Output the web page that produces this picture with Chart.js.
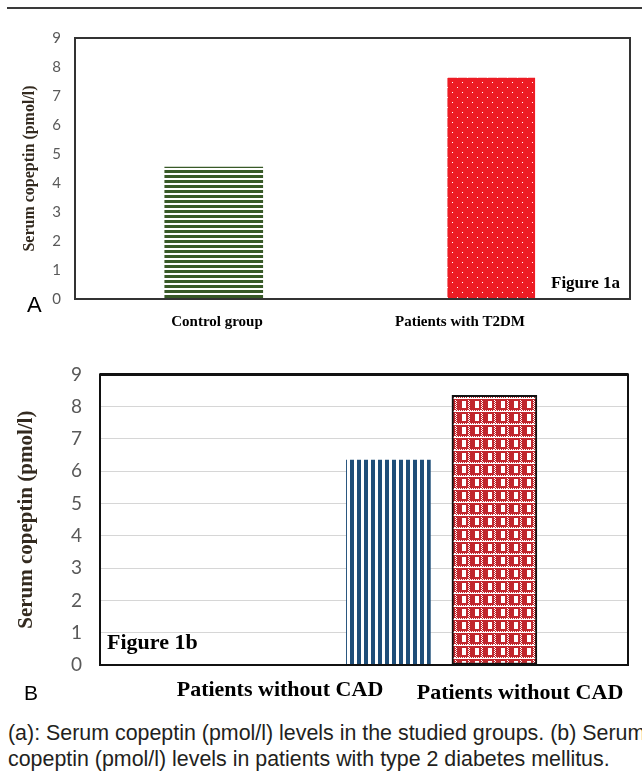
<!DOCTYPE html>
<html>
<head>
<meta charset="utf-8">
<script src="https://cdn.jsdelivr.net/npm/chart.js@4.4.1/dist/chart.umd.min.js"></script>
<style>
  html, body { margin: 0; padding: 0; background: #fff; }
  #page { position: relative; width: 642px; height: 781px; overflow: hidden; background: #fff; }
  .rule { position: absolute; left: 7px; top: 7px; width: 635px; height: 2px; background: #3a3a3a; }
  #chartA { position: absolute; left: 0; top: 0; }
  #chartB { position: absolute; left: 0; top: 345px; }
  .note { position: absolute; line-height: 1; white-space: nowrap; color: #000; }
  .fig { font-family: "Liberation Serif", "Times New Roman", serif; font-weight: bold; }
  .panel { font-family: "Liberation Sans", Arial, sans-serif; }
  .caption {
    position: absolute; left: 8px; top: 720px; width: 760px;
    font-family: "Liberation Sans", Arial, sans-serif;
    font-size: 21.4px; line-height: 26px; color: #231f20; white-space: nowrap;
  }
</style>
</head>
<body>
<div id="page">
  <div class="rule"></div>
  <canvas id="chartA" width="642" height="345"></canvas>
  <canvas id="chartB" width="642" height="365"></canvas>

  <div class="note fig" style="left:551px; top:274px; font-size:17px;">Figure 1a</div>
  <div class="note fig" style="left:107px; top:631px; font-size:22px;">Figure 1b</div>
  <div class="note panel" style="left:27px; top:294px; font-size:22px;">A</div>
  <div class="note panel" style="left:24px; top:682px; font-size:21px;">B</div>

  <div class="caption">(a): Serum copeptin (pmol/l) levels in the studied groups. (b) Serum<br>copeptin (pmol/l) levels in patients with type 2 diabetes mellitus.</div>
</div>

<script>
// Figure 1a
const groupsA = ['Control group', 'Patients with T2DM'];
const copeptinA = [4.55, 7.62];

// Figure 1b (both labels read "without" in the original)
const groupsB = ['Patients without CAD', 'Patients without CAD'];
const copeptinB = [6.35, 8.35];

const yTitle = 'Serum copeptin (pmol/l)';
const yMin = 0, yMax = 9, yStep = 1;

// little tiles for the Excel-like fills
const makePattern = (w, h, draw) => {
    const c = document.createElement('canvas');
    c.width = w; c.height = h;
    const g = c.getContext('2d');
    draw(g);
    return g.createPattern(c, 'repeat');
};

const greenStripes = makePattern(1, 5, g => {
    g.fillStyle = '#fff'; g.fillRect(0, 0, 1, 5);
    g.fillStyle = '#385a28'; g.fillRect(0, 0, 1, 3);
});

const redDots = makePattern(10, 10, g => {
    g.fillStyle = '#ed1c24'; g.fillRect(0, 0, 10, 10);
    g.fillStyle = '#ffffff';
    g.fillRect(2, 2, 1, 1);
    g.fillRect(7, 7, 1, 1);
});

const blueStripes = makePattern(7, 1, g => {
    g.fillStyle = '#fff'; g.fillRect(0, 0, 7, 1);
    g.fillStyle = '#1f4e79'; g.fillRect(0, 0, 4, 1);
});

const redChecks = makePattern(13, 13, g => {
    g.fillStyle = '#c1272d'; g.fillRect(0, 0, 13, 13);
    g.fillStyle = '#ffffff';
    // speckled band on top and speckled column on the left
    for (let x = 0; x < 13; x += 2) g.fillRect(x, 0, 1, 2);
    for (let x = 1; x < 13; x += 2) g.fillRect(x, 1, 1, 1);
    for (let y = 3; y < 13; y += 2) g.fillRect(0, y, 1, 1);
    for (let y = 4; y < 13; y += 2) g.fillRect(1, y, 1, 1);
    // white check
    g.fillRect(7, 4, 4, 7);
});

// box around the plot area
const frame = {
    id: 'frame',
    afterDatasetsDraw(chart, args, opts) {
        const { ctx, chartArea: a } = chart;
        ctx.save();
        ctx.strokeStyle = opts.color;
        ctx.lineWidth = opts.width;
        ctx.strokeRect(a.left, a.top, a.right - a.left, a.bottom - a.top);
        if (opts.topWidth) {
            ctx.lineWidth = opts.topWidth;
            ctx.beginPath();
            ctx.moveTo(a.left, a.top);
            ctx.lineTo(a.right, a.top);
            ctx.stroke();
        }
        ctx.restore();
    }
};

// category names under the axis, placed like in the figure
const groupLabels = {
    id: 'groupLabels',
    afterDraw(chart, args, opts) {
        const ctx = chart.ctx;
        ctx.save();
        ctx.font = opts.font;
        ctx.fillStyle = opts.color;
        ctx.textAlign = 'center';
        ctx.textBaseline = 'middle';
        opts.texts.forEach((t, i) => ctx.fillText(t, opts.xs[i], opts.ys[i]));
        ctx.restore();
    }
};

const yAxis = (width, size, pad, titleSize, titlePad, grid) => ({
    min: yMin,
    max: yMax,
    afterFit: (scale) => { scale.width = width; },
    border: { display: false },
    grid: grid ? { color: '#d6d6d6', lineWidth: 1, drawTicks: false } : { display: false, drawTicks: false },
    ticks: {
        stepSize: yStep,
        padding: pad,
        color: '#595959',
        font: { family: 'Lato', size: size }
    },
    title: {
        display: true,
        text: yTitle,
        color: '#332a1f',
        padding: { top: titlePad, bottom: 0 },
        font: { family: 'Liberation Serif', size: titleSize, weight: 'bold' }
    }
});

// chart A: one dataset per bar so each bar keeps its own fill
const fillsA = [greenStripes, redDots];
const widthsA = [98, 87];

new Chart(document.getElementById('chartA'), {
    type: 'bar',
    data: {
        labels: groupsA,
        datasets: copeptinA.map((v, i) => ({
            label: groupsA[i],
            data: copeptinA.map((w, j) => (j === i ? w : null)),
            backgroundColor: fillsA[i],
            barThickness: widthsA[i],
            borderWidth: 0,
            grouped: false
        }))
    },
    options: {
        responsive: false,
        animation: false,
        layout: { padding: { top: 38, right: 12, bottom: 46, left: 0 } },
        scales: {
            x: { display: false },
            y: yAxis(75, 15, 14, 16, 20, false)
        },
        plugins: {
            legend: { display: false },
            tooltip: { enabled: false },
            frame: { color: '#333', width: 2 },
            groupLabels: {
                texts: groupsA,
                xs: [217, 460],
                ys: [322, 322],
                font: 'bold 15px "Liberation Serif"',
                color: '#000'
            }
        }
    },
    plugins: [frame, groupLabels]
});

// chart B: bars sit off-centre in the original, so x is a plain linear index axis
const fillsB = [blueStripes, redChecks];
const widthsB = [84, 85];
const bordersB = [0, 2];

new Chart(document.getElementById('chartB'), {
    type: 'bar',
    data: {
        datasets: copeptinB.map((v, i) => ({
            label: groupsB[i],
            data: [{ x: i + 1, y: v }],
            backgroundColor: fillsB[i],
            borderColor: '#111',
            borderWidth: bordersB[i],
            borderSkipped: false,
            barThickness: widthsB[i],
            grouped: false
        }))
    },
    options: {
        responsive: false,
        animation: false,
        layout: { padding: { top: 22, right: 14, bottom: 45, left: 0 } },
        scales: {
            x: { type: 'linear', min: -1.72, max: 3.26, offset: false, display: false },
            y: yAxis(100, 19, 18, 21, 14, true)
        },
        plugins: {
            legend: { display: false },
            tooltip: { enabled: false },
            frame: { color: '#111', width: 2, topWidth: 3 },
            groupLabels: {
                texts: groupsB,
                xs: [280, 520],
                ys: [345, 348],
                font: 'bold 22px "Liberation Serif"',
                color: '#000'
            }
        }
    },
    plugins: [frame, groupLabels]
});
</script>
</body>
</html>
